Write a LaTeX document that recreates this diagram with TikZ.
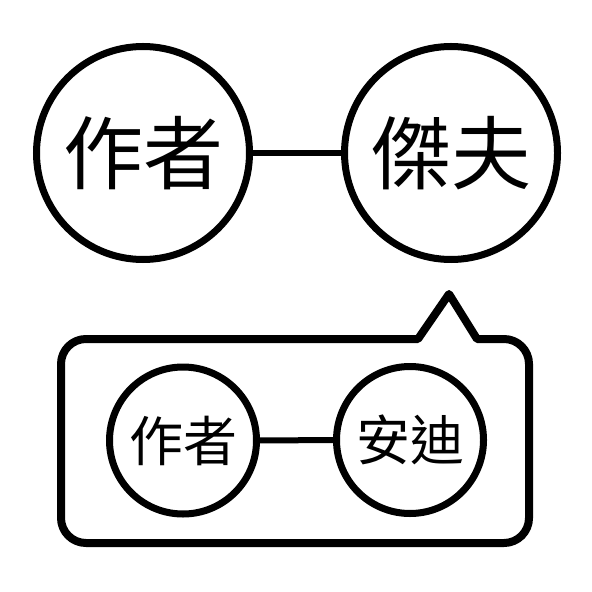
\documentclass[tikz,border=0pt]{standalone}
\usepackage{fontspec}
\newfontfamily\cjk{Noto Sans CJK TC}
\begin{document}
\begin{tikzpicture}[x=0.5pt,y=-0.5pt,
  bigcirc/.style={circle,draw,line width=3.5pt,minimum size=106.5pt,inner sep=0pt,font=\cjk\fontsize{40pt}{40pt}\selectfont},
  smallcirc/.style={circle,draw,line width=3.5pt,minimum size=73.5pt,inner sep=0pt,font=\cjk\fontsize{27pt}{27pt}\selectfont},
  link/.style={line width=3pt},
  bubble/.style={line width=4pt,line join=round}]
\useasboundingbox (0,0) rectangle (592,592);
\node[bigcirc] (a1) at (143,153) {作者};
\node[bigcirc] (j) at (451,153) {傑夫};
\draw[link] (a1) -- (j);
\draw[bubble] (61,440) [rounded corners=12.5pt] -- (61,339) [sharp corners] -- (418,339) -- (449,294) -- (477,339) [rounded corners=12.5pt] -- (529,339) -- (529,543) -- (61,543) -- cycle;
\node[smallcirc] (a2) at (183,440.5) {作者};
\node[smallcirc] (an) at (410,440) {安迪};
\draw[link] (a2) -- (an);
\end{tikzpicture}
\end{document}
